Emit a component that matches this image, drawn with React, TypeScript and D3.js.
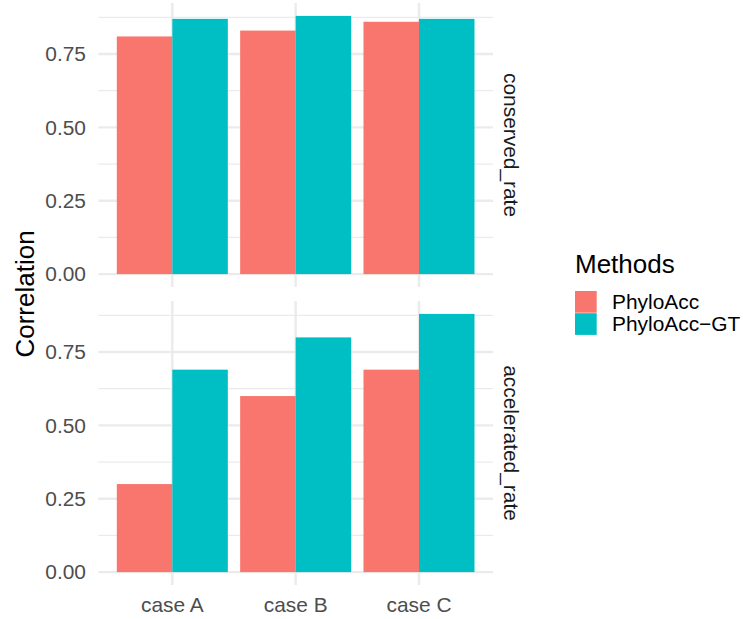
import React from "react";
import * as d3 from "d3";

const cases = ["case A", "case B", "case C"];
const methods = ["PhyloAcc", "PhyloAcc\u2212GT"];
const methodColors = ["#F8766D", "#00BFC4"];
const facets = ["conserved_rate", "accelerated_rate"];
const conservedPhyloAcc = [0.81, 0.83, 0.86];
const conservedPhyloAccGT = [0.87, 0.88, 0.87];
const acceleratedPhyloAcc = [0.3, 0.6, 0.69];
const acceleratedPhyloAccGT = [0.69, 0.8, 0.88];
const majorTicks = [0, 0.25, 0.5, 0.75];
const minorTicks = [0.125, 0.375, 0.625, 0.875];
const tickLabels = ["0.00", "0.25", "0.50", "0.75"];

const facetValues = [
  [conservedPhyloAcc, conservedPhyloAccGT],
  [acceleratedPhyloAcc, acceleratedPhyloAccGT],
];

const W = 743;
const H = 619;
const FONT = "'Liberation Sans', Arial, Helvetica, sans-serif";

export default function App() {
  const left = 98.3;
  const right = 493;
  const panels = [
    { top: 3, bottom: 287 },
    { top: 301, bottom: 585 },
  ];
  const allVals = facetValues.flat(2);
  const maxV = d3.max(allVals) as number;
  const yDomain: [number, number] = [-0.05 * maxV, maxV * 1.05];

  const x = d3
    .scaleBand<string>()
    .domain(cases)
    .range([left, right])
    .paddingInner(0)
    .paddingOuter(0.1);
  const step = x.step();
  const center = (c: string) => (x(c) as number) + x.bandwidth() / 2;
  const barW = step * 0.9;

  return (
    <svg width={W} height={H} style={{ position: "absolute", left: 0, top: 0 }}>
      <rect x={0} y={0} width={W} height={H} fill="#fff" />
      {panels.map((p, pi) => {
        const y = d3.scaleLinear().domain(yDomain).range([p.bottom, p.top]);
        return (
          <g key={pi}>
            {minorTicks.map((t) => (
              <line key={"mn" + t} x1={left} x2={right} y1={y(t)} y2={y(t)} stroke="#EBEBEB" strokeWidth={1.2} />
            ))}
            {majorTicks.map((t) => (
              <line key={"mj" + t} x1={left} x2={right} y1={y(t)} y2={y(t)} stroke="#EBEBEB" strokeWidth={2.4} />
            ))}
            {cases.map((c) => (
              <line key={"v" + c} x1={center(c)} x2={center(c)} y1={p.top} y2={p.bottom} stroke="#EBEBEB" strokeWidth={2.4} />
            ))}
            {facetValues[pi].map((series, si) =>
              series.map((v, ci) => {
                const cx = center(cases[ci]);
                const x0 = cx - barW / 2 + (si * barW) / 2;
                return (
                  <rect
                    key={si + "-" + ci}
                    x={x0}
                    y={y(v)}
                    width={barW / 2}
                    height={y(0) - y(v)}
                    fill={methodColors[si]}
                  />
                );
              })
            )}
            {majorTicks.map((t, i) => (
              <text
                key={"tl" + t}
                x={86}
                y={y(t)}
                dy="0.35em"
                textAnchor="end"
                fontFamily={FONT}
                fontSize={20.9}
                fill="#4D4D4D"
              >
                {tickLabels[i]}
              </text>
            ))}
            <text
              transform={`translate(${511.7},${(p.top + p.bottom) / 2}) rotate(90)`}
              textAnchor="middle"
              dy="0.35em"
              fontFamily={FONT}
              fontSize={20.9}
              fill="#1A1A1A"
            >
              {facets[pi]}
            </text>
          </g>
        );
      })}
      {cases.map((c) => (
        <text
          key={"xl" + c}
          x={center(c)}
          y={612.3}
          textAnchor="middle"
          fontFamily={FONT}
          fontSize={20.9}
          fill="#4D4D4D"
        >
          {c}
        </text>
      ))}
      <text
        transform={`translate(${25},${(panels[0].top + panels[1].bottom) / 2}) rotate(-90)`}
        textAnchor="middle"
        dy="0.35em"
        fontFamily={FONT}
        fontSize={26}
        fill="#000"
      >
        Correlation
      </text>
      <text x={575} y={273} fontFamily={FONT} fontSize={26} fill="#000">
        Methods
      </text>
      {methods.map((m, i) => (
        <g key={m}>
          <rect x={575} y={291 + i * 22.2} width={21.7} height={21.7} fill={methodColors[i]} />
          <text
            x={612}
            y={291 + i * 22.2 + 10.85}
            dy="0.35em"
            fontFamily={FONT}
            fontSize={20.9}
            fill="#000"
          >
            {m}
          </text>
        </g>
      ))}
    </svg>
  );
}
